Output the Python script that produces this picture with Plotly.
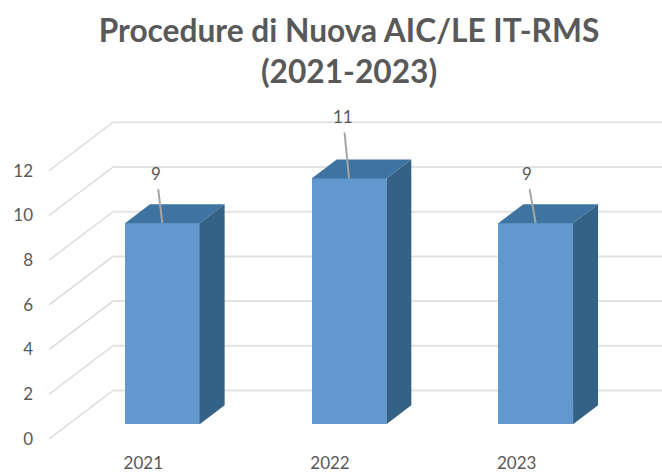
import plotly.graph_objects as go

categories = ["2021", "2022", "2023"]
values = [9, 11, 9]
y_ticks = [0, 2, 4, 6, 8, 10, 12]
title_text = "Procedure di Nuova AIC/LE IT-RMS<br>(2021-2023)"
label_offsets = [(-6, -50), (-6, -62), (-9, -50)]

W, H = 662, 472
ML, MB, MT = 40, 24, 100
PX_X = 186.7      # pixels per category
PX_Y = 22.35      # pixels per value unit
X0, Y0 = 162.3, 424.3  # pixel of first category centre / value 0 on bar plane
BOTTOM = H - MB
BAR_W = 0.4
DX, DY = 25 / PX_X, 19 / PX_Y        # bar depth
positions = list(range(len(categories)))

x_range = [(ML - X0) / PX_X, (W - X0) / PX_X]
y_range = [(Y0 - BOTTOM) / PX_Y, (Y0 - MT) / PX_Y]
# front plane of the axes (labels)
x2_range = [(ML - (X0 - 19)) / PX_X, (W - (X0 - 19)) / PX_X]
y2_range = [(438.8 - BOTTOM) / PX_Y, (438.8 - MT) / PX_Y]

# wall offsets relative to bar plane
WALL_FRONT_X, WALL_BACK_X = (49 - X0) / PX_X, (113 - X0) / PX_X
WALL_FRONT_Y, WALL_BACK_Y = (Y0 - 439) / PX_Y, (Y0 - 390.5) / PX_Y

fig = go.Figure()

shapes = []
for t in y_ticks:
    shapes.append(dict(type="line", xref="x", yref="y", layer="below",
                       x0=WALL_FRONT_X, y0=t + WALL_FRONT_Y, x1=WALL_BACK_X, y1=t + WALL_BACK_Y,
                       line=dict(color="#D9D9D9", width=1.4)))
    shapes.append(dict(type="line", xref="x", yref="y", layer="below",
                       x0=WALL_BACK_X, y0=t + WALL_BACK_Y, x1=x_range[1], y1=t + WALL_BACK_Y,
                       line=dict(color="#E2E2E2", width=2)))

fig.add_trace(go.Bar(x=positions, y=values, width=BAR_W,
                     marker=dict(color="#6198CE", line=dict(width=0)),
                     showlegend=False, hoverinfo="x+y"))

for p, v in zip(positions, values):
    l, r = p - BAR_W / 2, p + BAR_W / 2
    fig.add_trace(go.Scatter(x=[l, r, r + DX, l + DX, l], y=[v, v, v + DY, v + DY, v],
                             mode="lines", fill="toself", fillcolor="#3F74A0",
                             line=dict(width=0, color="#3F74A0"),
                             showlegend=False, hoverinfo="skip"))
    fig.add_trace(go.Scatter(x=[r, r + DX, r + DX, r, r], y=[0, DY, v + DY, v, 0],
                             mode="lines", fill="toself", fillcolor="#336286",
                             line=dict(width=0, color="#336286"),
                             showlegend=False, hoverinfo="skip"))

# invisible trace that carries the front-plane axes
fig.add_trace(go.Scatter(x=positions, y=values, xaxis="x2", yaxis="y2",
                         mode="markers", marker=dict(opacity=0, size=1),
                         showlegend=False, hoverinfo="skip"))

annotations = [
    dict(x=p, y=v, xref="x", yref="y", text=str(v), showarrow=True,
         ax=o[0], ay=o[1], axref="pixel", ayref="pixel", arrowhead=0,
         arrowcolor="#A6A6A6", arrowwidth=2, borderpad=5,
         font=dict(family="Lato", size=17, color="#595959"))
    for p, v, o in zip(positions, values, label_offsets)
]

fig.update_layout(
    width=W, height=H, autosize=False,
    paper_bgcolor="white", plot_bgcolor="rgba(0,0,0,0)",
    margin=dict(l=ML, r=0, t=MT, b=MB),
    title=dict(text=title_text, x=349 / W, xanchor="center", y=1 - 42 / H, yanchor="middle",
               font=dict(family="Lato", size=31.7, color="#595959", weight="bold")),
    shapes=shapes, annotations=annotations, bargap=0,
    xaxis=dict(range=x_range, visible=False, fixedrange=True),
    yaxis=dict(range=y_range, visible=False, fixedrange=True),
    xaxis2=dict(range=x2_range, overlaying="x", anchor="y2", side="bottom",
                tickmode="array", tickvals=positions, ticktext=categories,
                showgrid=False, zeroline=False, showline=False, ticks="",
                ticklabelstandoff=3,
                tickfont=dict(family="Lato", size=17, color="#595959"), fixedrange=True),
    yaxis2=dict(range=y2_range, overlaying="y", anchor="x2", side="left",
                tickmode="array", tickvals=y_ticks,
                showgrid=False, zeroline=False, showline=False, ticks="",
                ticklabelstandoff=6,
                tickfont=dict(family="Lato", size=17, color="#595959"), fixedrange=True),
)

fig.write_html("out.html", config={"displayModeBar": False},
               post_script="document.body.style.margin='0';document.body.style.overflow='hidden';")
